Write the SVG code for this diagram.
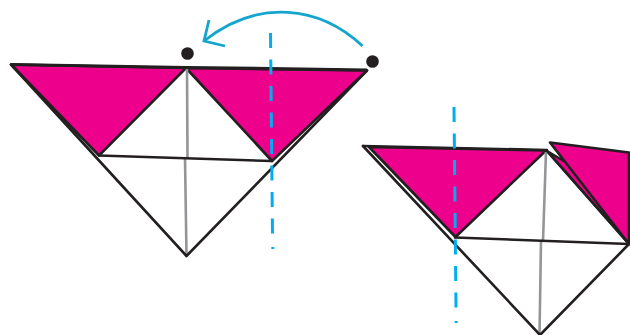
<svg xmlns="http://www.w3.org/2000/svg" width="630" height="335" viewBox="0 0 630 335">
<style>
.p{fill:#ec008c;stroke:#231f20;stroke-width:2.6;stroke-linejoin:round}
.k{fill:none;stroke:#231f20;stroke-width:2.6;stroke-linecap:round;stroke-linejoin:round}
.g{fill:none;stroke:#939598;stroke-width:2.6}
.d{fill:none;stroke:#00aeef;stroke-width:3;stroke-dasharray:15 11.500}
.a{fill:none;stroke:#14a5cf;stroke-width:2.8}
.o{fill:#231f20}
</style>
<rect width="630" height="335" fill="#fff"/>
<g id="left-figure">
<path class="p" d="M11 64.500L186 68L99 155.500Z"/>
<path class="p" d="M186 68L367 70.500L272 161Z"/>
<path class="g" d="M187 69L187.500 158M185 158L186.500 255"/>
<path class="k" d="M11 64.500L186.500 256L367 70.500"/>
<path class="k" d="M99 155.500L272 161"/>
<path d="M11 64.500L186 67.500L367 70" fill="none" stroke="#231f20" stroke-width="3.200"/>
</g>
<g id="right-figure">
<path class="p" d="M547 151L629 244L629 200Z"/>
<path class="p" d="M369 147L546 150.500L455.500 237Z"/>
<path class="p" d="M550 142.500L629 152.500L629 244Z"/>
<path class="g" d="M546 152L543 241M541 241L539.500 335"/>
<path class="k" d="M363 146L540 335L629 244"/>
<path class="k" d="M363 146L547 150M455 237.500L629 244M547 151L629 244"/>
</g>
<g id="connectors">
<path class="d" d="M270.500 33L272.500 235"/>
<path class="d" d="M272.800 247V249" stroke-dasharray="none"/>
<path class="d" d="M454 107L456 308"/>
<path class="d" d="M456.200 321V323" stroke-dasharray="none"/>
<path class="a" d="M362.500 46C320 6 258 -2 204 41"/>
<path class="a" d="M209 20L204 41L225 46"/>
</g>
<g id="dot-1"><circle class="o" cx="187.500" cy="53.500" r="6.300"/></g>
<g id="dot-2"><circle class="o" cx="372.500" cy="61.500" r="6.300"/></g>
</svg>
